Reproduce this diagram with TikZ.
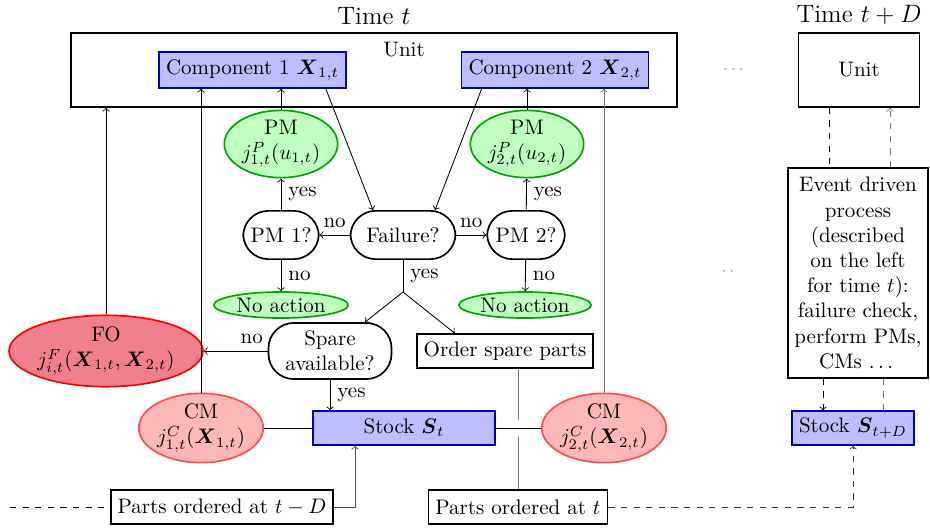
\documentclass[tikz,border=0pt]{standalone}
\usepackage{amsfonts}
\usepackage{amsmath}
\usepackage{amssymb}
\usepackage{tikz}
\usetikzlibrary{shapes,shapes.geometric,arrows,fit,calc,positioning}
\definecolor{fored}{RGB}{240,128,140}
\tikzset{comp/.style={draw=blue!70!black, fill=blue!26, thick, rectangle, minimum height=17pt}}
\tikzset{pmell/.style={draw=green!65!black, fill=green!25, thick, ellipse, inner sep=0pt, align=center}}
\tikzset{cmell/.style={draw=red!70, fill=red!28, thick, ellipse, inner sep=0pt, align=center, minimum width=59pt, minimum height=33pt}}
\tikzstyle{dec}=[draw, thick, rectangle, rounded corners=12pt, inner sep=3pt, minimum height=23pt, align=center]
\tikzstyle{bx}=[draw, thick, rectangle, minimum height=16pt]
\tikzstyle{gr}=[black!55]

\begin{document}
\begin{tikzpicture}[>=to, x=0.4763pt, y=-0.4763pt]
\useasboundingbox (0,0) rectangle (930,528);
% time t
\node[draw, thick, minimum width=288.6pt, minimum height=35.2pt] (Unit) at (374,70) {};
\node[above=0pt of Unit, font=\large] (TimeT) {Time $t$};
\node (UnitLbl) at (404,50) {Unit};
\node[comp] (C1) at (252.5,70) {Component 1 $\boldsymbol{X}_{1,t}$};
\node[comp] (C2) at (555,70) {Component 2 $\boldsymbol{X}_{2,t}$};
\node[pmell, minimum width=54pt, minimum height=32pt] (PM1) at (281,144) {PM\\$j^P_{1,t}(u_{1,t})$};
\node[pmell, minimum width=54pt, minimum height=32pt] (PM2) at (527,144) {PM\\$j^P_{2,t}(u_{2,t})$};
\node[dec, minimum width=36pt] (PM1q) at (281,235) {PM 1?};
\node[dec, minimum width=50pt] (Fail) at (403,235) {Failure?};
\node[dec, minimum width=37pt] (PM2q) at (526,235) {PM 2?};
\node[pmell, minimum width=64pt, minimum height=12.4pt] (NA1) at (281,305) {No action};
\node[pmell, minimum width=63pt, minimum height=12.4pt] (NA2) at (525,305) {No action};
\coordinate (Br) at (403,292);
\node[dec, minimum width=58.6pt, minimum height=26.7pt] (Spare) at (330,351) {Spare\\available?};
\node[bx] (Order) at (505,351) {Order spare parts};
\node[draw=red, fill=fored, thick, ellipse, inner sep=0pt, align=center, minimum width=92pt, minimum height=34pt] (FO) at (106,351) {FO\\$j^F_{i,t}(\boldsymbol{X}_{1,t},\boldsymbol{X}_{2,t})$};
\node[cmell] (CM1) at (201,428) {CM\\$j^C_{1,t}(\boldsymbol{X}_{1,t})$};
\node[comp, minimum width=87pt, minimum height=16pt] (St) at (404,428) {Stock $\boldsymbol{S}_t$};
\node[cmell] (CM2) at (604,428) {CM\\$j^C_{2,t}(\boldsymbol{X}_{2,t})$};
\node[bx] (PartsD) at (222,507) {Parts ordered at $t-D$};
\node[bx] (PartsT) at (518,507) {Parts ordered at $t$};
\coordinate (In) at (10,507);
% time t+D
\node[draw, thick, minimum width=57.6pt, minimum height=35.2pt] (UnitD) at (859,70) {Unit};
\node[above=0pt of UnitD, font=\large] (TimeD) {Time $t+D$};
\node[draw, thick, align=center, inner xsep=3pt, inner ysep=2pt, minimum width=66.7pt, minimum height=100pt] (Ev) at (858,273) {Event driven\\process\\(described\\on the left\\for time $t$):\\failure check,\\perform PMs,\\CMs $\dots$};
\node[comp, minimum width=57pt, minimum height=16pt] (StD) at (853,428) {Stock $\boldsymbol{S}_{t+D}$};
\node[text=black!45, font=\footnotesize] (Dots1) at (735,70) {$\cdots$};
\node[text=black!45, font=\footnotesize] (Dots2) at (728,272) {$\cdot\,\cdot$};
\coordinate (uA) at ($(UnitD.south)+(-30,0)$);
\coordinate (uB) at ($(UnitD.south)+(31,0)$);
\coordinate (sA) at ($(StD.north)+(-30,0)$);
\coordinate (sB) at ($(StD.north)+(30,0)$);

\draw[->] (PM1.north) -- (PM1.north |- C1.south);
\draw[->] (PM2.north) -- (PM2.north |- C2.south);
\draw[->] (PM1q) -- node[right] {yes} (PM1);
\draw[->] (PM2q) -- node[right] {yes} (PM2);
\draw[->] (PM1q) -- node[right] {no} (NA1);
\draw[->] (PM2q) -- node[right] {no} (NA2);
\draw[->] (Fail) -- node[above] {no} (PM1q);
\draw[->] (Fail) -- node[above] {no} (PM2q);
\draw[->] ($(C1.south east)+(-21,0)$) -- ($(Fail.north)+(-30,0)$);
\draw[->] ($(C2.south west)+(21,0)$) -- ($(Fail.north)+(32,0)$);
\draw (Fail.south) -- node[right] {yes} (Br);
\draw[->] (Br) -- ($(Spare.north)+(35,0)$);
\draw[->] (Br) -- ($(Order.north west)+(39,0)$);
\draw[->] (Spare.west) -- node[above, pos=0.25] {no} (FO.east);
\draw[->] (Spare.south) -- node[right] {yes} (Spare.south |- St.north);
\draw[->] (FO.north) -- (FO.north |- Unit.south);
\draw[->] (CM1.north) -- (CM1.north |- C1.south);
\draw[->, gr] (CM2.north) -- (CM2.north |- C2.south);
\draw (CM1.east) -- (St.west);
\draw (St.east) -- (CM2.west);
\draw[gr] (PartsT.north |- Order.south) -- ($(PartsT.north |- St.east)+(0,-8)$);
\draw[gr] ($(PartsT.north |- St.east)+(0,9)$) -- (PartsT.north);
\draw[->, black!70] (PartsD.east) -| ($(St.south)+(-49,0)$);
\draw[dashed] (In) -- (PartsD.west);
\draw[->, dashed, black!80] (PartsT.east) -| (StD.south);
\draw[dashed] (uA) -- (uA |- Ev.north);
\draw[->, dashed, gr] (uB |- Ev.north) -- (uB);
\draw[->, dashed] (sA |- Ev.south) -- (sA);
\draw[dashed, gr] (sB) -- (sB |- Ev.south);
\end{tikzpicture}
\end{document}
